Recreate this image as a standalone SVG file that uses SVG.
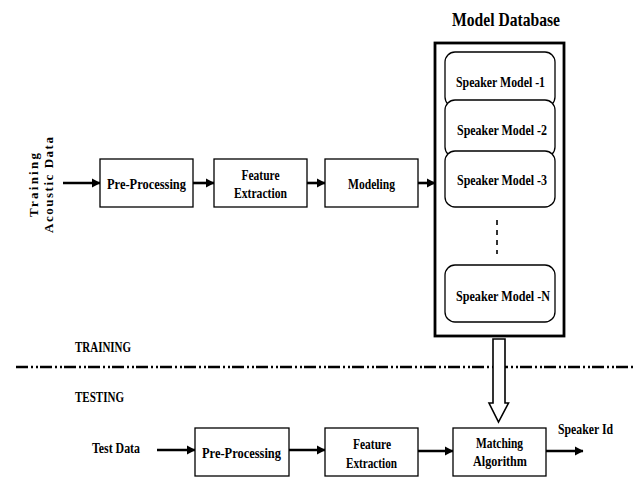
<svg xmlns="http://www.w3.org/2000/svg" width="635" height="477" viewBox="0 0 635 477">
<defs>
<style>
text{font-family:"Liberation Serif","Times New Roman",serif;font-weight:bold;fill:#000;}
.lbl{font-size:15.5px;text-anchor:middle;}
.box{fill:#fff;stroke:#000;stroke-width:1.3;}
.sm{fill:#fff;stroke:#000;stroke-width:1.3;}
.conn{stroke:#000;stroke-width:2.6;fill:none;marker-end:url(#ah);}
</style>
<marker id="ah" markerWidth="4" markerHeight="4" refX="3.2" refY="2" orient="auto" markerUnits="strokeWidth">
<path d="M0,0.2 L3.4,2 L0,3.8 Z" fill="#000"/>
</marker>
</defs>
<rect width="635" height="477" fill="#fff"/>

<g id="connectors">
<line class="conn" x1="63" y1="183" x2="100" y2="183"/>
<line class="conn" x1="193" y1="183" x2="214" y2="183"/>
<line class="conn" x1="307" y1="183" x2="325" y2="183"/>
<line class="conn" x1="418" y1="183" x2="435" y2="183"/>
<line class="conn" x1="157" y1="450" x2="195" y2="450"/>
<line class="conn" x1="289" y1="450" x2="325" y2="450"/>
<line class="conn" x1="418" y1="451" x2="453" y2="451"/>
<line class="conn" x1="546" y1="451" x2="583" y2="451"/>
</g>

<g id="separator">
<line x1="16" y1="367" x2="635" y2="367" stroke="#000" stroke-width="2.6" stroke-dasharray="12 3 2 3 2 2"/>
<text x="75" y="352" font-size="14.5" textLength="56" lengthAdjust="spacingAndGlyphs">TRAINING</text>
<text x="75" y="402" font-size="14.5" textLength="49" lengthAdjust="spacingAndGlyphs">TESTING</text>
</g>

<g id="training-input">
<text transform="translate(38,185) rotate(-90)" font-size="13" text-anchor="middle" textLength="64" lengthAdjust="spacing">Training</text>
<text transform="translate(53,185) rotate(-90)" font-size="13" text-anchor="middle" textLength="96" lengthAdjust="spacing">Acoustic Data</text>
</g>

<g id="pre-processing-train">
<rect class="box" x="100" y="159" width="93" height="48"/>
<text class="lbl" x="146.5" y="189" textLength="79" lengthAdjust="spacingAndGlyphs">Pre-Processing</text>
</g>
<g id="feature-extraction-train">
<rect class="box" x="214" y="159" width="93" height="48"/>
<text class="lbl" x="260.5" y="180" textLength="38" lengthAdjust="spacingAndGlyphs">Feature</text>
<text class="lbl" x="260.5" y="198" textLength="53" lengthAdjust="spacingAndGlyphs">Extraction</text>
</g>
<g id="modeling">
<rect class="box" x="325" y="159" width="93" height="48"/>
<text class="lbl" x="371.5" y="189" textLength="47" lengthAdjust="spacingAndGlyphs">Modeling</text>
</g>

<g id="model-database">
<text x="506" y="26" font-size="19" text-anchor="middle" textLength="108" lengthAdjust="spacingAndGlyphs">Model Database</text>
<rect x="435" y="43" width="129" height="293" fill="#fff" stroke="#000" stroke-width="2.8"/>
<g id="speaker-model-1">
<rect class="sm" x="445" y="52" width="110" height="55" rx="10"/>
<text class="lbl" x="500.5" y="87" textLength="89" lengthAdjust="spacingAndGlyphs">Speaker Model -1</text>
</g>
<g id="speaker-model-2">
<rect class="sm" x="445" y="100" width="110" height="57" rx="10"/>
<text class="lbl" x="502" y="135" textLength="90" lengthAdjust="spacingAndGlyphs">Speaker Model -2</text>
</g>
<g id="speaker-model-3">
<rect class="sm" x="445" y="151" width="110" height="56" rx="10"/>
<text class="lbl" x="502" y="185" textLength="90" lengthAdjust="spacingAndGlyphs">Speaker Model -3</text>
</g>
<line x1="497" y1="220" x2="497" y2="254" stroke="#000" stroke-width="1.6" stroke-dasharray="5 5"/>
<g id="speaker-model-n">
<rect class="sm" x="445" y="265" width="110" height="57" rx="10"/>
<text class="lbl" x="503" y="301" textLength="94" lengthAdjust="spacingAndGlyphs">Speaker Model -N</text>
</g>
</g>

<g id="db-to-matching">
<path d="M493,339 L505,339 L505,403 L508.5,403 L498.5,422 L489,403 L493,403 Z" fill="#fff" stroke="#000" stroke-width="1.6" stroke-linejoin="miter"/>
</g>

<g id="test-data">
<text x="116" y="453" font-size="14.5" text-anchor="middle" textLength="48" lengthAdjust="spacingAndGlyphs">Test Data</text>
</g>
<g id="pre-processing-test">
<rect class="box" x="195" y="428" width="94" height="48"/>
<text class="lbl" x="241.5" y="458" textLength="79" lengthAdjust="spacingAndGlyphs">Pre-Processing</text>
</g>
<g id="feature-extraction-test">
<rect class="box" x="325" y="428" width="93" height="48"/>
<text class="lbl" x="372" y="449" textLength="38" lengthAdjust="spacingAndGlyphs">Feature</text>
<text class="lbl" x="371.5" y="468" textLength="51" lengthAdjust="spacingAndGlyphs">Extraction</text>
</g>
<g id="matching-algorithm">
<rect class="box" x="453" y="428" width="93" height="48"/>
<text class="lbl" x="499.5" y="448" textLength="47" lengthAdjust="spacingAndGlyphs">Matching</text>
<text class="lbl" x="500" y="466" textLength="54" lengthAdjust="spacingAndGlyphs">Algorithm</text>
</g>
<g id="speaker-id">
<text x="585.5" y="434" font-size="15.5" text-anchor="middle" textLength="55" lengthAdjust="spacingAndGlyphs">Speaker Id</text>
</g>
</svg>
